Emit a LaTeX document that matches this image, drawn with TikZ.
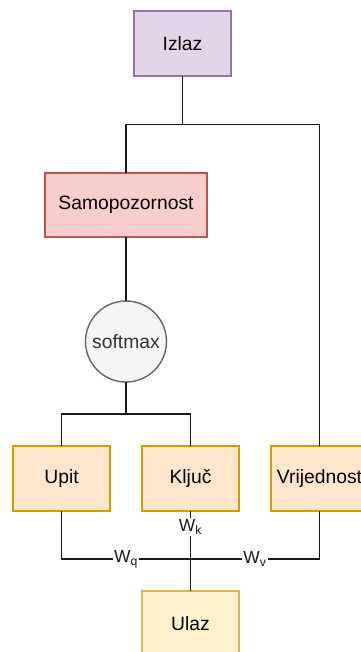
\documentclass[tikz,border=0pt]{standalone}
\usepackage{fontspec}
\setmainfont{Liberation Sans}
\usetikzlibrary{
    positioning,
    calc
}

\definecolor{izlazfill}{HTML}{E1D5E7}
\definecolor{izlazdraw}{HTML}{9673A6}
\definecolor{samofill}{HTML}{F8CECC}
\definecolor{samodraw}{HTML}{B85450}
\definecolor{softfill}{HTML}{F5F5F5}
\definecolor{softdraw}{HTML}{666666}
\definecolor{softtext}{HTML}{333333}
\definecolor{qkvfill}{HTML}{FFE6CC}
\definecolor{qkvdraw}{HTML}{D79B00}
\definecolor{ulazfill}{HTML}{FFF2CC}
\definecolor{ulazdraw}{HTML}{D6B656}

\begin{document}
\begin{tikzpicture}[
    x=1pt, y=-1pt,
    font=\fontsize{19.3}{23}\selectfont,
    block/.style={rectangle, minimum width=97pt, minimum height=65pt, line width=1.4pt, inner sep=0pt, outer sep=0pt},
    izlazbox/.style={block, draw=izlazdraw, fill=izlazfill},
    samobox/.style={block, minimum width=162pt, minimum height=64pt, draw=samodraw, fill=samofill},
    qkvbox/.style={block, draw=qkvdraw, fill=qkvfill},
    ulazbox/.style={block, draw=ulazdraw, fill=ulazfill},
    softbox/.style={circle, minimum size=81pt, inner sep=0pt, outer sep=0pt, line width=1.4pt, draw=softdraw, fill=softfill, text=softtext},
    wire/.style={line width=1.7pt, black!90},
    wlabel/.style={fill=white, inner sep=1.5pt, font=\fontsize{17.5}{20}\selectfont}
]

    \useasboundingbox (0,0) rectangle (360,652);

    % Blocks
    \node (izlaz) [izlazbox] at (182.5,43.5) {Izlaz};
    \node (samo) [samobox] at (126,205) {Samopozornost};
    \node (softmax) [softbox] at (126,341.5) {softmax};
    \node (upit) [qkvbox] at (61.5,478.5) {Upit};
    \node (kljuc) [qkvbox, right=32pt of upit] {Ključ};
    \node (vrij) [qkvbox, right=32pt of kljuc] {Vrijednost};
    \node (ulaz) [ulazbox, below=80pt of kljuc] {Ulaz};

    % Junctions
    \coordinate (top) at (182.5,124.5);
    \coordinate (mid) at (126,414);
    \coordinate (hub) at (190.5,559);

    % Projections
    \draw [wire] (ulaz) -- (hub);
    \draw [wire] (hub) -| node[wlabel, pos=0.25] {W\textsubscript{q}} (upit);
    \draw [wire] (hub) -- node[wlabel, pos=0.67] {W\textsubscript{k}} (kljuc);
    \draw [wire] (hub) -| node[wlabel, pos=0.25] {W\textsubscript{v}} (vrij);

    % Attention
    \draw [wire] (upit) |- (mid);
    \draw [wire] (kljuc) |- (mid);
    \draw [wire] (mid) -- (softmax);
    \draw [wire] (softmax) -- (samo);

    % Output
    \draw [wire] (samo) |- (top);
    \draw [wire] (vrij) |- (top);
    \draw [wire] (top) -- (izlaz);

\end{tikzpicture}
\end{document}
